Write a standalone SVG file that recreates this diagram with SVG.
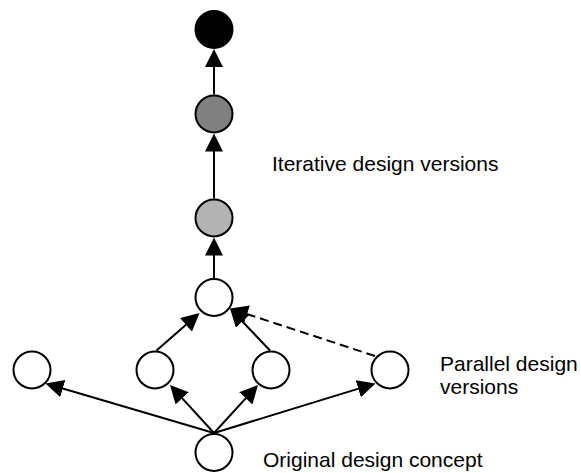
<svg xmlns="http://www.w3.org/2000/svg" width="581" height="473" viewBox="0 0 581 473">
<style>
.n{stroke:#000;stroke-width:2}
.e{stroke:#000;stroke-width:2;fill:none}
.d{stroke-dasharray:9 5}
text{font-family:"Liberation Sans",Arial,sans-serif;font-size:21px;fill:#000}
</style>
<defs>
<marker id="ah" markerUnits="userSpaceOnUse" markerWidth="20" markerHeight="20" refX="8" refY="9" orient="auto">
<path d="M0,0 L18,9 L0,18 Z" fill="#000"/>
</marker>
</defs>
<rect width="581" height="473" fill="#fff"/>
<g id="connectors">
<line class="e" x1="214" y1="94.5" x2="214" y2="59" marker-end="url(#ah)"/>
<line class="e" x1="214" y1="198.5" x2="214" y2="143.5" marker-end="url(#ah)"/>
<line class="e" x1="214" y1="278" x2="214" y2="247.5" marker-end="url(#ah)"/>
<line class="e" x1="214" y1="433" x2="55.1" y2="386.3" marker-end="url(#ah)"/>
<line class="e" x1="214" y1="433" x2="176.8" y2="392.4" marker-end="url(#ah)"/>
<line class="e" x1="214" y1="433" x2="251.2" y2="392.4" marker-end="url(#ah)"/>
<line class="e" x1="214" y1="433" x2="365.9" y2="386.4" marker-end="url(#ah)"/>
<line class="e" x1="156.5" y1="350.5" x2="192" y2="319.6" marker-end="url(#ah)"/>
<line class="e" x1="270" y1="350.5" x2="236.9" y2="315.7" marker-end="url(#ah)"/>
<line class="e d" x1="375" y1="356" x2="239.5" y2="311.6" marker-end="url(#ah)"/>
</g>
<g id="n1"><circle class="n" cx="214" cy="29.5" r="18.5" fill="#000"/></g>
<g id="n2"><circle class="n" cx="214" cy="114" r="18.5" fill="#808080"/></g>
<g id="n3"><circle class="n" cx="214" cy="218" r="18.5" fill="#b3b3b3"/></g>
<g id="n4"><circle class="n" cx="214" cy="297.5" r="18.5" fill="#fff"/></g>
<g id="n5"><circle class="n" cx="32" cy="370" r="18.5" fill="#fff"/></g>
<g id="n6"><circle class="n" cx="155" cy="370" r="18.5" fill="#fff"/></g>
<g id="n7"><circle class="n" cx="271" cy="370" r="18.5" fill="#fff"/></g>
<g id="n8"><circle class="n" cx="390" cy="370" r="18.5" fill="#fff"/></g>
<g id="n9"><circle class="n" cx="214" cy="452.5" r="18.5" fill="#fff"/></g>
<g id="labels">
<text x="272" y="171">Iterative design versions</text>
<text x="440" y="371">Parallel design</text>
<text x="440" y="394">versions</text>
<text x="263" y="467">Original design concept</text>
</g>
</svg>
